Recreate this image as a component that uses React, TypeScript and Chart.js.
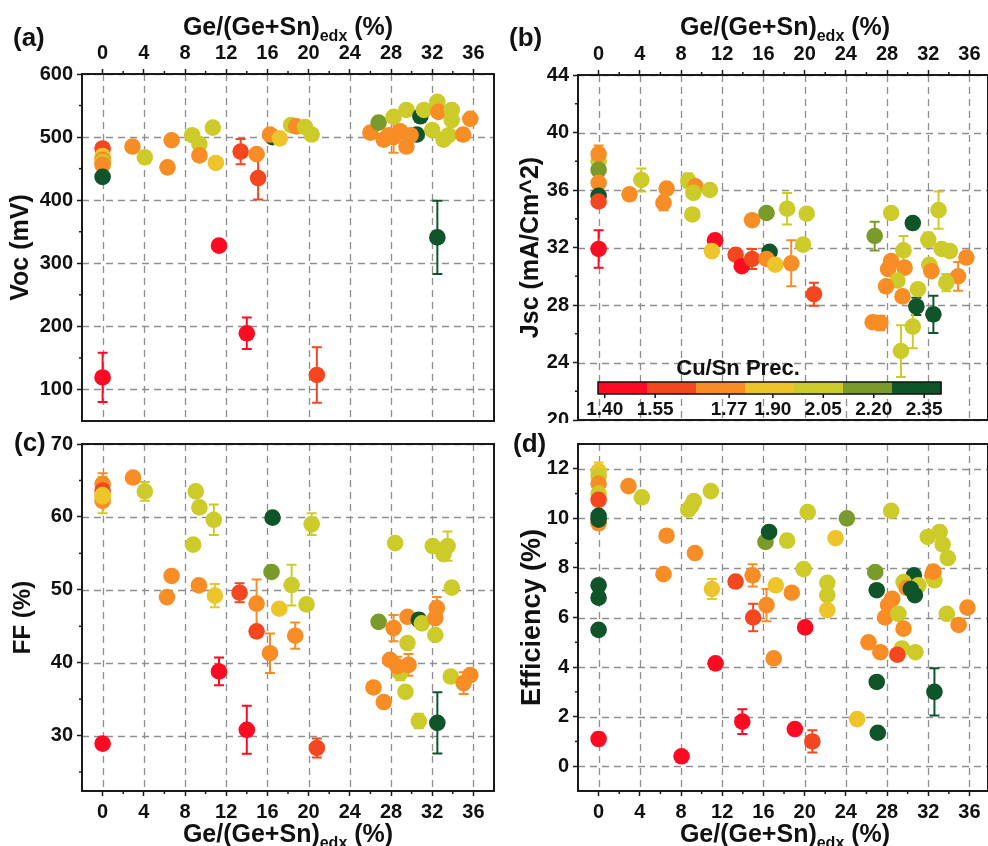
import React, { useEffect, useRef } from 'react';
import { Chart, registerables } from 'chart.js';
Chart.register(...registerables);

const FONT = "'Liberation Sans', Arial, Helvetica, sans-serif";

// Cu/Sn precursor colour classes (1..7)
const classColors = ['#FF0A22', '#F5471F', '#F78D24', '#EDC52B', '#CDCB2A', '#7A9A2A', '#10552A'];
const cbTicks = [1.40, 1.55, 1.77, 1.90, 2.05, 2.20, 2.35];
const cbRange = [1.38, 2.40];
const cbTitle = 'Cu/Sn Prec.';

const xTicks = [0, 4, 8, 12, 16, 20, 24, 28, 32, 36];
const xMinor = [2, 6, 10, 14, 18, 22, 26, 30, 34];

// (a) Voc (mV)
const vocX = [0, 0, 0, 0, 0, 0, 0, 2.9, 4.1, 6.3, 6.7, 8.7, 9.4, 9.4, 10.7, 11.0, 11.3, 13.4, 14.0, 14.95, 15.1, 16.5, 16.25, 17.2, 18.3, 18.8, 19.65, 20.3, 20.8, 26.0, 26.8, 27.3, 28.25, 29.5, 30.85, 31.2, 32.5, 32.6, 33.9, 33.9, 32.0, 33.1, 33.6, 30.5, 28.25, 28.9, 29.5, 29.9, 27.8, 32.5, 35.7, 35.0];
const vocY = [482, 470, 464, 460, 456, 437, 119, 485, 468, 452, 495, 503, 489, 471, 515, 459, 328, 477, 189, 473, 435, 500, 504, 498, 519, 517, 516, 504, 123, 507, 523, 496, 532, 543, 533, 543, 556, 540, 543, 527, 511, 496, 503, 504, 500, 509, 485, 503, 503, 341, 529, 504];
const vocErr = [0, 0, 0, 0, 0, 0, 39, 0, 0, 8, 0, 0, 0, 5, 0, 0, 0, 20, 25, 0, 34, 5, 0, 0, 0, 5, 0, 0, 44, 0, 0, 0, 0, 0, 3, 0, 0, 8, 0, 0, 0, 0, 0, 0, 25, 0, 0, 0, 0, 58, 0, 0];
const vocCls = [2, 4, 3, 5, 3, 7, 1, 3, 5, 3, 3, 5, 5, 3, 5, 4, 1, 2, 1, 3, 2, 7, 3, 4, 5, 3, 5, 5, 2, 3, 6, 3, 5, 5, 7, 5, 5, 3, 5, 5, 5, 5, 5, 7, 3, 3, 3, 3, 3, 7, 3, 3];

// (b) Jsc (mA/cm^2)
const jscX = [0, 0, 0, 0, 0, 0, 0, 3.0, 4.15, 6.3, 6.6, 8.7, 9.4, 9.2, 9.1, 10.8, 11.3, 11.0, 13.3, 13.9, 14.9, 14.9, 16.3, 16.6, 16.3, 17.15, 18.3, 18.7, 20.2, 19.85, 20.9, 26.6, 27.35, 26.8, 28.4, 30.5, 33.0, 29.6, 32.0, 33.3, 34.1, 35.7, 28.4, 28.1, 29.7, 32.1, 32.3, 34.9, 33.75, 29.0, 27.9, 29.5, 31.0, 30.85, 32.5, 30.5, 29.35];
const jscY = [38.0, 38.5, 37.4, 36.5, 35.6, 35.2, 31.9, 35.7, 36.7, 35.1, 36.1, 36.65, 36.25, 35.8, 34.3, 36.0, 32.5, 31.75, 31.5, 30.7, 31.2, 33.9, 34.4, 31.7, 31.2, 30.8, 34.7, 30.9, 34.35, 32.2, 28.75, 26.8, 26.75, 32.8, 34.4, 33.7, 34.6, 31.8, 32.55, 31.9, 31.75, 31.3, 31.05, 30.5, 30.6, 30.8, 30.35, 30.0, 29.55, 29.7, 29.3, 28.6, 29.1, 27.9, 27.35, 26.5, 24.8];
const jscErr = [0, 0.6, 0.3, 0, 0, 0, 1.3, 0, 0.8, 0.5, 0, 0.5, 0.3, 0, 0, 0, 0.4, 0.4, 0, 0, 0.7, 0, 0, 0.3, 0, 0, 1.1, 1.6, 0, 0, 0.8, 0, 0.5, 1.0, 0, 0, 1.3, 1.0, 0.5, 0, 0, 0, 0, 0, 0.4, 0, 0.3, 1.0, 0.6, 0, 0, 0, 0, 0.6, 1.3, 1.5, 1.8];
const jscCls = [5, 3, 6, 3, 7, 2, 1, 3, 5, 3, 3, 5, 3, 5, 5, 5, 1, 4, 2, 1, 2, 3, 6, 7, 3, 4, 5, 3, 5, 5, 2, 3, 3, 6, 5, 7, 5, 5, 5, 5, 5, 3, 3, 3, 3, 5, 3, 3, 5, 5, 3, 3, 5, 7, 7, 5, 5];

// (c) FF (%)
const ffX = [0, 0, 0, 0, 0, 0, 2.95, 4.1, 9.05, 9.4, 10.8, 8.8, 16.5, 20.3, 6.7, 6.25, 9.35, 10.9, 13.3, 14.95, 14.95, 16.4, 17.15, 18.35, 19.8, 18.7, 16.25, 11.3, 14.0, 20.8, 26.8, 28.4, 32.05, 33.1, 33.5, 33.9, 26.3, 27.3, 28.25, 29.6, 30.7, 31.0, 32.45, 32.3, 32.3, 29.6, 28.9, 27.9, 28.6, 29.7, 29.4, 33.8, 35.05, 35.7, 30.7, 32.5];
const ffY = [64.5, 63.6, 63.0, 62.2, 62.8, 28.9, 65.4, 63.5, 63.5, 61.3, 59.6, 56.2, 59.9, 59.0, 51.9, 49.0, 50.6, 49.2, 49.6, 48.1, 44.3, 52.45, 47.4, 50.65, 48.0, 43.7, 41.3, 38.8, 30.8, 28.3, 45.6, 56.4, 56.0, 54.9, 56.0, 50.3, 36.6, 34.6, 44.75, 46.3, 45.9, 45.4, 47.5, 46.1, 43.8, 42.7, 38.6, 40.4, 39.5, 39.7, 36.0, 38.1, 37.2, 38.3, 32.0, 31.75];
const ffErr = [1.5, 0, 2.5, 0, 0, 0, 0, 1.3, 0, 0, 2.1, 0, 0, 1.5, 0, 0, 0, 1.6, 1.3, 3.3, 0, 0, 0, 2.8, 0, 1.8, 2.7, 1.9, 3.3, 1.3, 0, 0, 0, 0, 2.0, 0, 0, 0, 1.8, 0, 0.8, 0, 1.5, 0, 0, 0, 1.0, 0, 1.3, 1.5, 0, 0, 1.5, 0, 1.0, 4.2];
const ffCls = [3, 2, 5, 3, 4, 1, 3, 5, 5, 5, 5, 5, 7, 5, 3, 3, 3, 4, 2, 3, 2, 6, 4, 5, 5, 3, 3, 1, 1, 2, 6, 5, 5, 5, 5, 5, 3, 3, 3, 3, 7, 5, 3, 3, 5, 5, 5, 3, 3, 3, 5, 5, 3, 3, 5, 7];

// (d) Efficiency (%)
const effX = [0, 0, 0, 0, 0, 0, 0, 0, 0, 0, 0, 0, 2.9, 4.2, 6.6, 6.3, 9.35, 8.7, 9.25, 9.0, 10.9, 11.0, 11.35, 13.3, 14.95, 15.0, 16.3, 17.0, 16.2, 16.55, 18.3, 17.2, 18.75, 19.9, 20.3, 24.1, 23.0, 22.2, 22.2, 22.2, 20.05, 19.05, 20.75, 13.95, 8.05, 25.1, 26.85, 27.0, 27.0, 27.1, 28.4, 31.95, 33.1, 33.4, 33.9, 32.6, 30.6, 29.6, 29.9, 31.05, 30.7, 30.3, 32.4, 32.6, 32.5, 28.5, 28.1, 27.8, 29.1, 29.6, 33.8, 35.8, 34.95, 26.2, 27.35, 29.45, 29.0, 30.75];
const effY = [11.9, 11.7, 11.4, 11.0, 10.75, 9.8, 10.1, 9.95, 7.3, 6.8, 5.5, 1.1, 11.3, 10.85, 9.3, 7.75, 8.6, 10.35, 10.7, 10.5, 11.1, 7.15, 4.15, 7.45, 7.7, 6.0, 6.5, 4.35, 9.05, 9.45, 9.1, 7.3, 7.0, 7.95, 10.25, 10.0, 9.2, 7.4, 6.9, 6.3, 5.6, 1.5, 1.0, 1.8, 0.4, 1.9, 7.83, 7.1, 3.4, 1.35, 10.3, 9.25, 9.45, 8.95, 8.4, 3.0, 7.7, 7.43, 7.2, 7.3, 6.9, 7.15, 7.7, 7.5, 7.85, 6.75, 6.5, 6.0, 6.15, 5.55, 6.15, 6.4, 5.7, 5.0, 4.6, 4.75, 4.5, 4.6];
const effErr = [0.35, 0, 0.4, 0, 0.2, 0, 0, 0, 0, 0, 0, 0.25, 0, 0, 0, 0, 0, 0, 0, 0, 0, 0.4, 0, 0, 0.45, 0.55, 0.65, 0, 0, 0, 0.25, 0, 0, 0, 0, 0, 0, 0, 0, 0, 0, 0, 0.45, 0.5, 0, 0, 0, 0, 0, 0, 0, 0, 0, 0, 0, 0.95, 0, 0, 0.2, 0, 0, 0, 0, 0, 0.2, 0, 0, 0, 0.2, 0, 0, 0, 0, 0, 0, 0, 0.15, 0];
const effCls = [4, 5, 3, 5, 2, 3, 7, 7, 7, 7, 7, 1, 3, 5, 3, 3, 3, 5, 5, 5, 5, 4, 1, 2, 3, 2, 3, 3, 6, 7, 5, 4, 3, 5, 5, 6, 4, 5, 5, 4, 1, 1, 2, 1, 1, 4, 6, 7, 7, 7, 5, 5, 5, 5, 5, 7, 7, 5, 3, 5, 7, 7, 3, 5, 3, 3, 3, 3, 5, 3, 5, 3, 3, 3, 3, 5, 2, 5];

const vocTicks = [100, 200, 300, 400, 500, 600];
const vocMinor = [150, 250, 350, 450, 550];
const jscTicks = [20, 24, 28, 32, 36, 40, 44];
const jscMinor = [22, 26, 30, 34, 38, 42];
const ffTicks = [30, 40, 50, 60, 70];
const ffMinor = [25, 35, 45, 55, 65];
const effTicks = [0, 2, 4, 6, 8, 10, 12];
const effMinor = [1, 3, 5, 7, 9, 11];

interface PanelCfg {
  key: string;
  left: number; top: number; w: number; h: number;
  pad: { left: number; right: number; top: number; bottom: number };
  xPos: 'top' | 'bottom'; xH: number; xMax: number; yW: number;
  yMin: number; yMax: number; yTicks: number[]; yMinor: number[];
  xs: number[]; ys: number[]; errs: number[]; cls: number[];
  yTitle: string; yTitleX: number; yTitleSize: number;
  label: string; labelX: number; labelY: number;
  xTitleBase: number; colorbar?: boolean;
}

function drawXTitle(ctx: CanvasRenderingContext2D, cx: number, base: number) {
  const main = 'Ge/(Ge+Sn)', sub = 'edx', tail = ' (%)';
  ctx.font = `bold 25px ${FONT}`;
  const w1 = ctx.measureText(main).width;
  const w3 = ctx.measureText(tail).width;
  ctx.font = `bold 16px ${FONT}`;
  const w2 = ctx.measureText(sub).width;
  let x = cx - (w1 + w2 + w3) / 2;
  ctx.textAlign = 'left';
  ctx.textBaseline = 'alphabetic';
  ctx.fillStyle = '#111';
  ctx.font = `bold 25px ${FONT}`;
  ctx.fillText(main, x, base);
  x += w1;
  ctx.font = `bold 16px ${FONT}`;
  ctx.fillText(sub, x, base + 6);
  x += w2;
  ctx.font = `bold 25px ${FONT}`;
  ctx.fillText(tail, x, base);
}

function panelPlugin(p: PanelCfg) {
  return {
    id: 'panel' + p.key,
    beforeDatasetsDraw(chart: any) {
      const { ctx, chartArea: a, scales } = chart;
      const x = scales.x, y = scales.y;
      ctx.save();
      // dashed grid
      ctx.strokeStyle = '#8f8f8f';
      ctx.lineWidth = 1.3;
      ctx.setLineDash([7, 5]);
      xTicks.forEach((v) => {
        const px = Math.round(x.getPixelForValue(v)) + 0.5;
        ctx.beginPath(); ctx.moveTo(px, a.top); ctx.lineTo(px, a.bottom); ctx.stroke();
      });
      p.yTicks.forEach((v) => {
        const py = Math.round(y.getPixelForValue(v)) + 0.5;
        ctx.beginPath(); ctx.moveTo(a.left, py); ctx.lineTo(a.right, py); ctx.stroke();
      });
      ctx.setLineDash([]);
      // error bars
      ctx.lineWidth = 2;
      p.xs.forEach((xv, i) => {
        const e = p.errs[i];
        if (!e) return;
        const px = x.getPixelForValue(xv);
        const y1 = y.getPixelForValue(p.ys[i] + e);
        const y2 = y.getPixelForValue(p.ys[i] - e);
        ctx.strokeStyle = classColors[p.cls[i] - 1];
        ctx.beginPath();
        ctx.moveTo(px, y1); ctx.lineTo(px, y2);
        ctx.moveTo(px - 5, y1); ctx.lineTo(px + 5, y1);
        ctx.moveTo(px - 5, y2); ctx.lineTo(px + 5, y2);
        ctx.stroke();
      });
      ctx.restore();
    },
    afterDraw(chart: any) {
      const { ctx, chartArea: a, scales } = chart;
      const x = scales.x, y = scales.y;
      ctx.save();
      // frame
      ctx.strokeStyle = '#1a1a1a';
      ctx.lineWidth = 2;
      ctx.strokeRect(a.left, a.top, a.right - a.left, a.bottom - a.top);
      // minor ticks
      ctx.lineWidth = 1.5;
      p.yMinor.forEach((v) => {
        const py = y.getPixelForValue(v);
        ctx.beginPath(); ctx.moveTo(a.left, py); ctx.lineTo(a.left - 3, py); ctx.stroke();
      });
      xMinor.forEach((v) => {
        const px = x.getPixelForValue(v);
        ctx.beginPath();
        if (p.xPos === 'top') { ctx.moveTo(px, a.top); ctx.lineTo(px, a.top - 3); }
        else { ctx.moveTo(px, a.bottom); ctx.lineTo(px, a.bottom + 3); }
        ctx.stroke();
      });
      // x title
      drawXTitle(ctx, (a.left + a.right) / 2 + (p.key === 'b' || p.key === 'd' ? 2 : 0), p.xTitleBase);
      // y title
      ctx.save();
      ctx.translate(p.yTitleX, (a.top + a.bottom) / 2);
      ctx.rotate(-Math.PI / 2);
      ctx.font = `bold ${p.yTitleSize}px ${FONT}`;
      ctx.textAlign = 'center';
      ctx.textBaseline = 'middle';
      ctx.fillStyle = '#111';
      ctx.fillText(p.yTitle, 0, 0);
      ctx.restore();
      // panel label
      ctx.font = `bold 26px ${FONT}`;
      ctx.textAlign = 'left';
      ctx.textBaseline = 'middle';
      ctx.fillStyle = '#111';
      ctx.fillText(p.label, p.labelX, p.labelY);
      // colour bar
      if (p.colorbar) {
        const x0 = 104, x1 = 447, yb = 382, hb = 12;
        const map = (v: number) => x0 + ((v - cbRange[0]) / (cbRange[1] - cbRange[0])) * (x1 - x0);
        const bw = (x1 - x0) / classColors.length;
        classColors.forEach((c, i) => {
          ctx.fillStyle = c;
          ctx.fillRect(x0 + i * bw, yb, bw + 0.5, hb);
        });
        ctx.strokeStyle = '#111';
        ctx.lineWidth = 1.5;
        ctx.strokeRect(x0, yb, x1 - x0, hb);
        ctx.font = `bold 19px ${FONT}`;
        ctx.textAlign = 'center';
        ctx.textBaseline = 'middle';
        ctx.fillStyle = '#111';
        cbTicks.forEach((v) => {
          const px = map(v);
          ctx.beginPath(); ctx.moveTo(px, yb + hb); ctx.lineTo(px, yb + hb + 4); ctx.stroke();
          ctx.fillText(v.toFixed(2), px, 410);
        });
        ctx.font = `bold 22px ${FONT}`;
        ctx.fillText(cbTitle, 244, 369);
      }
      ctx.restore();
    },
  };
}

function buildConfig(p: PanelCfg): any {
  const tickFont = { family: FONT, size: 20, weight: 'bold' as const };
  return {
    type: 'scatter',
    data: {
      datasets: [
        {
          data: p.xs.map((xv, i) => ({ x: xv, y: p.ys[i] })),
          pointRadius: 8.3,
          pointHoverRadius: 8.3,
          pointBackgroundColor: p.cls.map((c) => classColors[c - 1]),
          pointBorderWidth: 0,
          borderWidth: 0,
          showLine: false,
        },
      ],
    },
    options: {
      responsive: false,
      animation: false,
      devicePixelRatio: 1,
      events: [],
      layout: { padding: p.pad, autoPadding: false },
      plugins: { legend: { display: false }, tooltip: { enabled: false } },
      scales: {
        x: {
          type: 'linear',
          position: p.xPos,
          min: -2,
          max: p.xMax,
          afterBuildTicks: (s: any) => { s.ticks = xTicks.map((v) => ({ value: v })); },
          afterFit: (s: any) => { s.height = p.xH; s.paddingLeft = 0; s.paddingRight = 0; },
          ticks: { font: tickFont, color: '#111', padding: 4, maxRotation: 0, autoSkip: false, callback: (v: any) => String(v) },
          grid: { drawOnChartArea: false, drawTicks: true, tickLength: 5, tickColor: '#1a1a1a', tickWidth: 1.5 },
          border: { display: false },
        },
        y: {
          type: 'linear',
          min: p.yMin,
          max: p.yMax,
          afterBuildTicks: (s: any) => { s.ticks = p.yTicks.map((v) => ({ value: v })); },
          afterFit: (s: any) => { s.width = p.yW; s.paddingTop = 0; s.paddingBottom = 0; },
          ticks: { font: tickFont, color: '#111', padding: 4, autoSkip: false, callback: (v: any) => String(v) },
          grid: { drawOnChartArea: false, drawTicks: true, tickLength: 5, tickColor: '#1a1a1a', tickWidth: 1.5 },
          border: { display: false },
        },
      },
    },
    plugins: [panelPlugin(p)],
  };
}

const panels: PanelCfg[] = [
  {
    key: 'a', left: 0, top: 0, w: 496, h: 423,
    pad: { left: 0, right: 2, top: 0, bottom: 2 },
    xPos: 'top', xH: 74, xMax: 38, yW: 82,
    yMin: 50, yMax: 600, yTicks: vocTicks, yMinor: vocMinor,
    xs: vocX, ys: vocY, errs: vocErr, cls: vocCls,
    yTitle: 'Voc (mV)', yTitleX: 21, yTitleSize: 25,
    label: '(a)', labelX: 13, labelY: 39, xTitleBase: 35,
  },
  {
    key: 'b', left: 494, top: 0, w: 494, h: 423,
    pad: { left: 0, right: 0, top: 0, bottom: 3 },
    xPos: 'top', xH: 75, xMax: 37.8, yW: 84,
    yMin: 20, yMax: 44, yTicks: jscTicks, yMinor: jscMinor,
    xs: jscX, ys: jscY, errs: jscErr, cls: jscCls,
    yTitle: 'Jsc (mA/Cm^2)', yTitleX: 37, yTitleSize: 25,
    label: '(b)', labelX: 15, labelY: 39, xTitleBase: 35, colorbar: true,
  },
  {
    key: 'c', left: 0, top: 423, w: 496, h: 423,
    pad: { left: 0, right: 2, top: 21, bottom: 0 },
    xPos: 'bottom', xH: 55, xMax: 38, yW: 82,
    yMin: 22.4, yMax: 70, yTicks: ffTicks, yMinor: ffMinor,
    xs: ffX, ys: ffY, errs: ffErr, cls: ffCls,
    yTitle: 'FF (%)', yTitleX: 23, yTitleSize: 24,
    label: '(c)', labelX: 14, labelY: 21, xTitleBase: 419,
  },
  {
    key: 'd', left: 494, top: 423, w: 494, h: 423,
    pad: { left: 0, right: 0, top: 21, bottom: 0 },
    xPos: 'bottom', xH: 55, xMax: 37.8, yW: 84,
    yMin: -1, yMax: 13, yTicks: effTicks, yMinor: effMinor,
    xs: effX, ys: effY, errs: effErr, cls: effCls,
    yTitle: 'Efficiency (%)', yTitleX: 39, yTitleSize: 27,
    label: '(d)', labelX: 19, labelY: 22, xTitleBase: 419,
  },
];

function Panel({ cfg }: { cfg: PanelCfg }) {
  const ref = useRef<HTMLCanvasElement>(null);
  useEffect(() => {
    if (!ref.current) return;
    const chart = new Chart(ref.current, buildConfig(cfg));
    return () => chart.destroy();
  }, [cfg]);
  return (
    <canvas
      ref={ref}
      width={cfg.w}
      height={cfg.h}
      style={{ position: 'absolute', left: cfg.left, top: cfg.top, width: cfg.w, height: cfg.h }}
    />
  );
}

export default function App() {
  return (
    <div style={{ position: 'absolute', left: 0, top: 0, width: 988, height: 846, background: '#fff', overflow: 'hidden' }}>
      {panels.map((p) => (
        <Panel key={p.key} cfg={p} />
      ))}
    </div>
  );
}
